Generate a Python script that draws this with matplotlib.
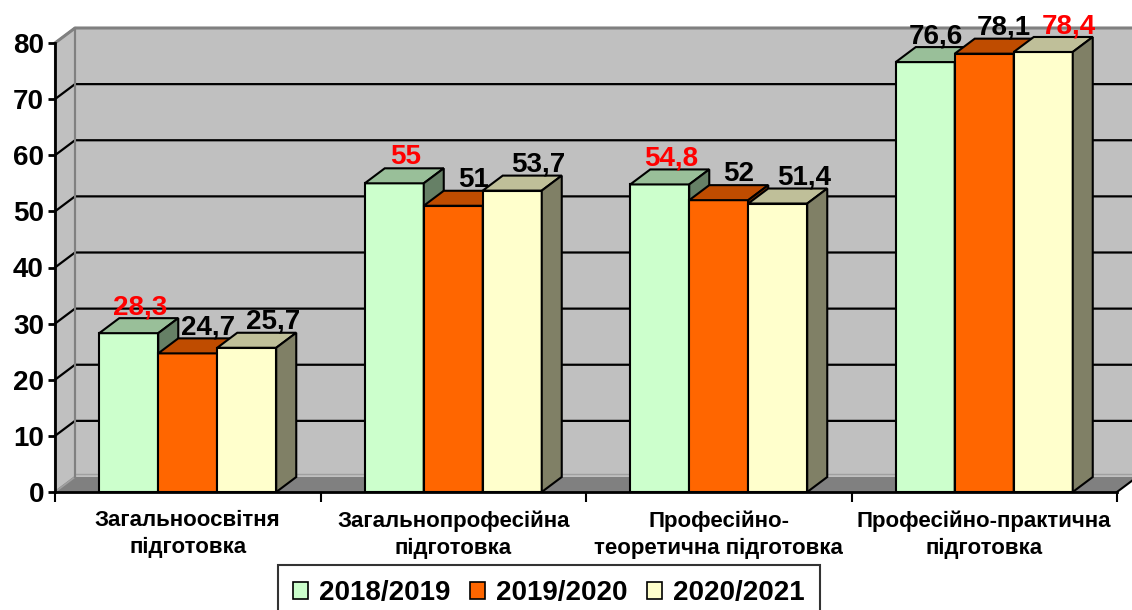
import matplotlib
matplotlib.use("Agg")
import matplotlib.pyplot as plt
from matplotlib.patches import Polygon, Patch
import numpy as np

categories = ["Загальноосвітня\nпідготовка",
              "Загальнопрофесійна\nпідготовка",
              "Професійно-\nтеоретична підготовка",
              "Професійно-практична\nпідготовка"]
series_names = ["2018/2019", "2019/2020", "2020/2021"]
v2018 = [28.3, 55, 54.8, 76.6]
v2019 = [24.7, 51, 52, 78.1]
v2020 = [25.7, 53.7, 51.4, 78.4]
label_text = [["28,3", "55", "54,8", "76,6"],
              ["24,7", "51", "52", "78,1"],
              ["25,7", "53,7", "51,4", "78,4"]]
yticks = [0, 10, 20, 30, 40, 50, 60, 70, 80]

front = ["#CCFFCC", "#FF6600", "#FFFFCC"]
top = ["#99BF99", "#BF4C00", "#BFBF99"]
side = ["#668066", "#803300", "#808066"]
label_shift_px = [11, 20, 26]

plt.rcParams['font.family'] = ['Liberation Sans', 'DejaVu Sans']
W, H = 1132, 610
fig = plt.figure(figsize=(W / 100, H / 100), dpi=100)
L, R, B, T = 55, 1117, 492, 43
ax = fig.add_axes([L / W, 1 - B / H, (R - L) / W, (B - T) / H])
ax.set_xlim(0, 4)
ax.set_ylim(0, 80)
ax.patch.set_visible(False)

px_x = 4 / (R - L)
px_y = 80 / (B - T)
dx = 20 * px_x
dy = 15 * px_y

# walls
ax.add_patch(Polygon([(dx, dy), (4 + dx + 0.2, dy), (4 + dx + 0.2, 80 + dy), (dx, 80 + dy)],
                     closed=True, facecolor="#C0C0C0", edgecolor="none", clip_on=False, zorder=0))
ax.add_patch(Polygon([(0, 0), (dx, dy), (dx, 80 + dy), (0, 80)], closed=True,
                     facecolor="#C0C0C0", edgecolor="#808080", lw=1.5, clip_on=False, zorder=0.5))
ax.add_patch(Polygon([(0, 0), (4, 0), (4 + dx, dy), (dx, dy)], closed=True,
                     facecolor="#808080", edgecolor="none", clip_on=False, zorder=0.5))
ax.plot([4, 4 + dx], [0, dy], color="black", lw=1.5, clip_on=False, zorder=0.6)
ax.plot([0, dx], [0, dy], color="#A0A0A0", lw=1.2, clip_on=False, zorder=0.6)
ax.plot([dx, 4 + dx + 0.2], [dy + 0.6, dy + 0.6], color="#A0A0A0", lw=1.0, clip_on=False, zorder=0.6)
for yv in yticks[1:-1]:
    ax.plot([0, dx, 4 + dx + 0.2], [yv, yv + dy, yv + dy], color="black", lw=1.6,
            clip_on=False, zorder=0.7)
ax.plot([0, dx, 4 + dx + 0.2], [80, 80 + dy, 80 + dy], color="#808080", lw=2.2,
        clip_on=False, zorder=0.7)
ax.plot([dx, dx], [dy, 80 + dy], color="#808080", lw=1.5, clip_on=False, zorder=0.7)

# bars
series = [v2018, v2019, v2020]
bw = 59 * px_x
x_centers = np.arange(4) + 0.5
z = 2
for g in range(4):
    vals = [s[g] for s in series]
    mx = max(vals)
    for i in range(3):
        xc = x_centers[g] + (i - 1) * bw
        x0, x1 = xc - bw / 2, xc + bw / 2
        h = vals[i]
        ax.bar(xc, h, width=bw, color=front[i], edgecolor="black", lw=1.5, zorder=z)
        ax.add_patch(Polygon([(x0, h), (x1, h), (x1 + dx, h + dy), (x0 + dx, h + dy)], closed=True,
                             facecolor=top[i], edgecolor="black", lw=1.5, zorder=z, clip_on=False))
        ax.add_patch(Polygon([(x1, 0), (x1 + dx, dy), (x1 + dx, h + dy), (x1, h)], closed=True,
                             facecolor=side[i], edgecolor="black", lw=1.5, zorder=z, clip_on=False))
        z += 0.01
    for i in range(3):
        xc = x_centers[g] + (i - 1) * bw
        h = vals[i]
        ax.text(xc + label_shift_px[i] * px_x, h + dy + 0.7, label_text[i][g], ha="center",
                va="baseline", fontsize=20, fontweight="bold",
                color="#FF0000" if h == mx else "black", zorder=10, clip_on=False)

# axes
for s in ["top", "right"]:
    ax.spines[s].set_visible(False)
ax.spines["left"].set_linewidth(2)
ax.spines["bottom"].set_linewidth(2)
ax.spines["left"].set_zorder(5)
ax.spines["bottom"].set_zorder(5)
ax.set_yticks(yticks)
ax.set_yticklabels([str(v) for v in yticks], fontsize=20, fontweight="bold")
ax.tick_params(axis="y", length=5, width=2, pad=3)
ax.set_xticks([0, 1, 2, 3, 4])
ax.set_xticklabels([])
ax.tick_params(axis="x", which="major", length=7, width=1.5)
ax.set_xticks(x_centers, minor=True)
ax.set_xticklabels(categories, minor=True, fontsize=16, fontweight="bold", linespacing=1.38)
ax.tick_params(axis="x", which="minor", length=0, pad=13)

handles = [Patch(facecolor=front[i], edgecolor="black", lw=1.2) for i in range(3)]
leg = fig.legend(handles, series_names, loc="upper center", bbox_to_anchor=(549 / W, 1 - 565 / H),
                 ncol=3, frameon=True, fancybox=False, prop={"size": 20, "weight": "bold"},
                 handlelength=0.54, handleheight=0.54, handletextpad=0.4, columnspacing=0.7,
                 borderpad=0.55, borderaxespad=0, edgecolor="black")
leg.get_frame().set_linewidth(1.5)

fig.savefig("out.png", dpi=100)
